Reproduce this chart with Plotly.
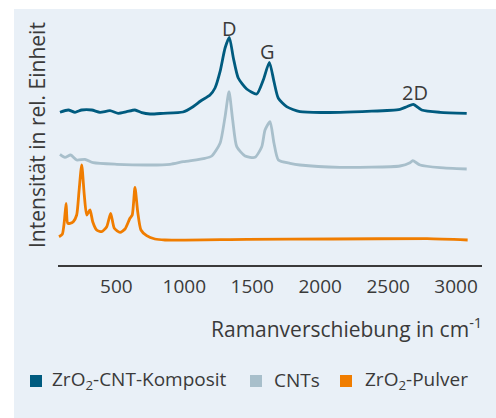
import plotly.graph_objects as go

# ---- data ----
komposit_x = [85, 146, 196, 245, 319, 380, 453, 514, 576, 637, 687, 748, 845, 990, 1064, 1120,
              1189, 1226, 1263, 1300, 1331, 1361, 1397, 1459, 1533, 1581, 1626, 1660, 1692,
              1753, 1851, 2146, 2587, 2637, 2685, 2747, 2882, 3078]
komposit_y = [152.7, 155, 152.7, 155, 155, 152.7, 154.3, 151.7, 153.3, 155, 152.3, 151, 151.7, 153,
              158.3, 164, 170, 177, 193.3, 217, 227.7, 207, 187, 176, 171, 185, 202.7, 183.3,
              166.7, 158.3, 153.3, 152.7, 155.7, 158.3, 160.7, 155, 152.7, 151.7]

cnt_x = [85, 122, 164, 208, 269, 330, 503, 748, 895, 993, 1152, 1202, 1263, 1300, 1329, 1356,
         1386, 1447, 1520, 1570, 1594, 1631, 1660, 1692, 1778, 1851, 2146, 2587, 2661, 2681,
         2735, 2882, 3078]
cnt_y = [110.7, 107.7, 110, 105, 105.7, 102.3, 100.7, 100, 100.7, 103.3, 106.7, 109, 121.7, 148.3,
         173.3, 145, 118.3, 109, 107.7, 118.3, 135, 143.3, 121.7, 105, 101.7, 100, 97.7, 99,
         102.3, 104.3, 100, 97.3, 96]

pulver_x = [78, 102, 117, 130, 142, 159, 183, 208, 225, 245, 264, 282, 306, 326, 355, 392, 429,
            458, 485, 527, 564, 600, 617, 637, 657, 681, 723, 784, 858, 1461, 2094, 2786, 3085]
pulver_y = [28.3, 30.7, 43.3, 61.7, 41.7, 41.7, 43.3, 50, 73.3, 100, 70, 50, 55, 43.3, 35, 33.3,
            38.3, 51.7, 36.7, 32.7, 36, 46.7, 50, 77.7, 53.3, 35, 29.3, 26, 25, 25.7, 26, 26.3, 25]

tick_vals = [500, 1000, 1500, 2000, 2500, 3000]
tick_text = ["500", "1000", "1500", "2000", "2500", "3000"]

peak_labels = ["D", "G", "2D"]
peak_x = [1336, 1609, 2697]
peak_y = [237, 214, 173]

series_names = ["ZrO<sub>2</sub>-CNT-Komposit", "CNTs", "ZrO<sub>2</sub>-Pulver"]
colors = ["#005b7f", "#a8bfcb", "#f07d00"]

FONT = "Open Sans"
TXT = "#3a3a3a"

# plot-area geometry in pixels
L, R, T, B = 58, 482, 20, 265
W, H = R - L, B - T


def px_x(p):
    return (p - L) / W


def px_y(p):
    return (B - p) / H


fig = go.Figure()
for xs, ys, c, n in [(komposit_x, komposit_y, colors[0], series_names[0]),
                     (cnt_x, cnt_y, colors[1], series_names[1]),
                     (pulver_x, pulver_y, colors[2], series_names[2])]:
    fig.add_trace(go.Scatter(x=xs, y=ys, mode="lines", name=n,
                             line=dict(color=c, width=2.8, shape="spline", smoothing=0.6),
                             showlegend=False, hoverinfo="skip"))

for t, px, py in zip(peak_labels, peak_x, peak_y):
    fig.add_annotation(x=px, y=py, text=t, showarrow=False, xanchor="center", yanchor="middle",
                       font=dict(family=FONT, size=20, color=TXT))

# y title
fig.add_annotation(xref="paper", yref="paper", x=px_x(37), y=px_y(135),
                   text="Intensität in rel. Einheit", textangle=-90, showarrow=False,
                   xanchor="center", yanchor="middle", font=dict(family=FONT, size=21, color=TXT))
# x title
fig.add_annotation(xref="paper", yref="paper", x=px_x(484), y=px_y(327),
                   text="Ramanverschiebung in cm<sup>-1</sup>", showarrow=False,
                   xanchor="right", yanchor="middle", font=dict(family=FONT, size=21, color=TXT))

# legend (squares + labels)
legend_sq_x = [30, 250, 340]
legend_tx_x = [50, 272, 363]
for name, c, sx, tx in zip(series_names, colors, legend_sq_x, legend_tx_x):
    fig.add_shape(type="rect", xref="paper", yref="paper", x0=px_x(sx), x1=px_x(sx + 12),
                  y0=px_y(387), y1=px_y(375), fillcolor=c, line=dict(width=0))
    fig.add_annotation(xref="paper", yref="paper", x=px_x(tx), y=px_y(380), text=name,
                       showarrow=False, xanchor="left", yanchor="middle",
                       font=dict(family=FONT, size=19, color=TXT))

# background panel
fig.add_shape(type="rect", xref="paper", yref="paper", x0=px_x(14), x1=px_x(500),
              y0=px_y(420), y1=px_y(9), fillcolor="#e9f0f7", line=dict(width=0),
              layer="below")

fig.update_layout(
    width=496, height=418,
    margin=dict(l=L, r=496 - R, t=T, b=418 - B, autoexpand=False),
    paper_bgcolor="white", plot_bgcolor="rgba(0,0,0,0)",
    font=dict(family=FONT, size=19, color=TXT),
    xaxis=dict(range=[70.6, 3190.6], tickvals=tick_vals, ticktext=tick_text, showgrid=False,
               zeroline=False, showline=True, linecolor="#3a3a3a", linewidth=1.5, ticks="",
               ticklabelstandoff=4, tickfont=dict(family=FONT, size=19, color=TXT)),
    yaxis=dict(range=[0, 245], visible=False, showgrid=False, zeroline=False),
    showlegend=False,
)

fig.write_html("out.html", config={"displayModeBar": False, "staticPlot": True},
               post_script="document.body.style.margin='0';document.body.style.overflow='hidden';")
